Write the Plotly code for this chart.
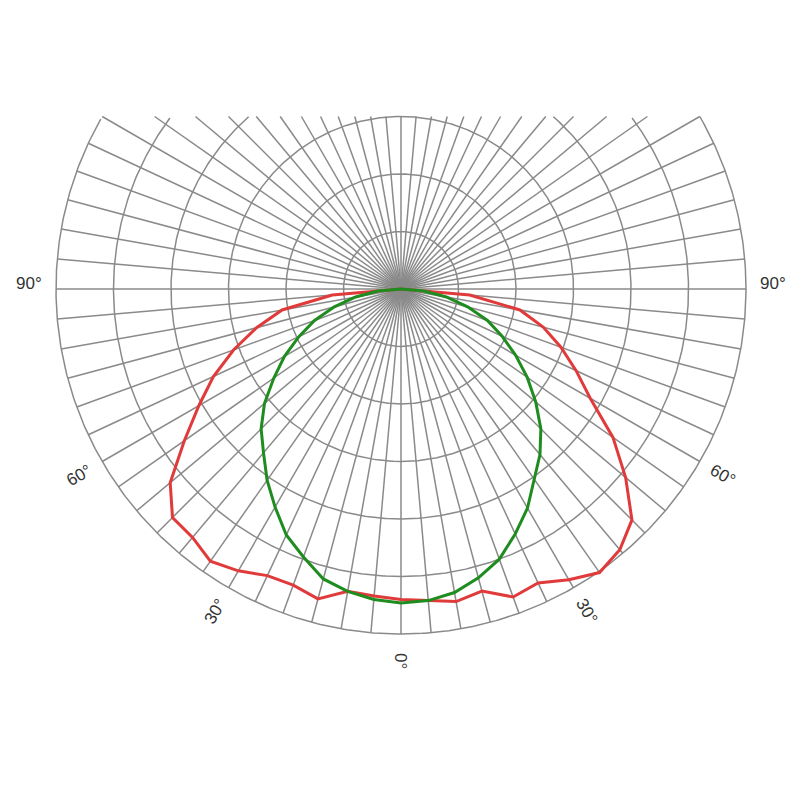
import numpy as np
import plotly.graph_objects as go

# angles measured from downward vertical (deg), positive to the right
angles = list(range(-90, 95, 5))
red = [0, 60, 105, 130, 155, 180, 203, 230, 262, 281, 282, 289, 283, 275, 274, 279, 267, 268,
       270,
       272, 276, 272, 285, 282, 292, 301, 296, 284, 255, 225, 190, 168, 148, 128, 105, 60, 0]
green = [0, 20, 40, 60, 80, 98, 117, 135, 155, 172, 186, 203, 219, 236, 248, 261, 267, 271,
         273,
         272, 268, 260, 250, 235, 220, 202, 188, 172, 153, 134, 115, 97, 80, 60, 40, 20, 0]
ring_values = [50, 100, 150, 200, 250, 300]
label_texts = ["90°", "60°", "30°", "0°", "30°", "60°", "90°"]
label_angles = [-90, -60, -30, 0, 30, 60, 90]

S = 1.15  # px per unit
TOP = 150  # clip height (units above centre)
CX, CY = 393, 281  # centre in figure px (page offset compensation)
fig = go.Figure()
gc = "#8a8a8a"

def clip_xy(x, y):
    xs, ys = [], []
    for a, b in zip(x, y):
        if b > TOP:
            xs.append(None); ys.append(None)
        else:
            xs.append(a); ys.append(b)
    return xs, ys

t = np.linspace(0, 2*np.pi, 721)
for r in ring_values:
    xs, ys = clip_xy(r*np.sin(t), -r*np.cos(t))
    fig.add_trace(go.Scatter(x=xs, y=ys, mode="lines", line=dict(color=gc, width=1.5), hoverinfo="skip"))
gx, gy = [], []
for a in range(0, 360, 5):
    th = np.radians(a)
    dx, dy = np.sin(th), -np.cos(th)
    L = 300
    if dy > 0:
        L = min(L, TOP/dy)
    gx += [0, L*dx, None]; gy += [0, L*dy, None]
fig.add_trace(go.Scatter(x=gx, y=gy, mode="lines", line=dict(color=gc, width=1.5), hoverinfo="skip"))
fig.add_trace(go.Scatter(x=[397/S, 397/S], y=[TOP, -390/S], mode="lines", line=dict(color="#bbb", width=1), hoverinfo="skip"))

def curve(vals, color):
    th = np.radians(angles)
    v = np.array(vals, float)
    fig.add_trace(go.Scatter(x=v*np.sin(th), y=-v*np.cos(th), mode="lines", line=dict(color=color, width=3)))

curve(red, "#e03a3a")
curve(green, "#1e8c1e")

for txt, a in zip(label_texts, label_angles):
    th = np.radians(a)
    if abs(a) == 90:
        x = np.sign(a)*372/S; y = 6/S; ang = 0
    else:
        R = 372/S
        x, y = R*np.sin(th), -R*np.cos(th)
        ang = 90 - a if a >= 0 else -90 - a
    fig.add_annotation(x=x, y=y, text=txt, showarrow=False, textangle=ang,
                       font=dict(size=17, color="#333", family="Liberation Sans"))

fig.update_layout(width=800, height=800, margin=dict(l=0, r=0, t=0, b=0),
                  plot_bgcolor="white", paper_bgcolor="white", showlegend=False,
                  xaxis=dict(range=[-CX/S, (800-CX)/S], visible=False),
                  yaxis=dict(range=[-(800-CY)/S, CY/S], visible=False))
fig.write_html("out.html")
